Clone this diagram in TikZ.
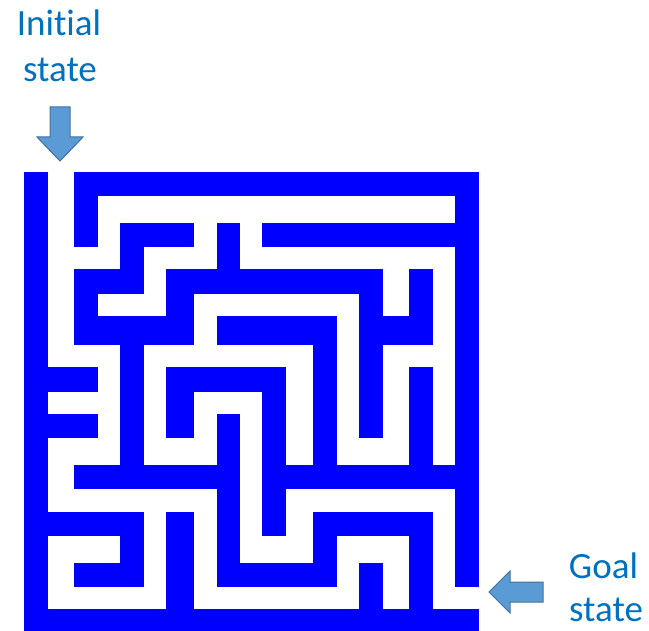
\documentclass[tikz,border=0pt]{standalone}
\usepackage{fontspec}
\setmainfont{Carlito}[Ligatures={NoCommon,NoRequired,NoContextual}]
\definecolor{mazeblue}{RGB}{0,0,255}
\definecolor{labelblue}{RGB}{0,112,192}
\definecolor{arrowfill}{RGB}{91,155,213}
\definecolor{arrowline}{RGB}{65,113,156}
\tikzset{
  wallcell/.style={fill=mazeblue, draw=mazeblue, line width=0.3pt},
  labeltext/.style={text=labelblue, font=\fontsize{37}{46}\selectfont, inner sep=0pt, anchor=base},
  blockarrow/.style={fill=arrowfill, draw=arrowline, line width=1pt, line join=miter},
}
\begin{document}
\begin{tikzpicture}[x=1pt, y=-1pt]
\useasboundingbox (0,0) rectangle (649,631);
\def\xs{{24,46.7,74.3,97.3,120,143.3,165.7,193.3,216.7,239.3,262.3,285,312.7,336,359,381.7,409.3,432.3,455,477.7}}
\def\ys{{171.7,195,223.3,246,269.3,292.7,316,344,367.3,390.7,414,437.3,465,488.3,511.7,535,562.7,586,609.3,632}}
\begin{scope}
\clip (0,0) rectangle (649,631);
\foreach \r/\a/\b in {
 0/0/0, 0/2/18,
 1/0/0, 1/2/2, 1/18/18,
 2/0/0, 2/2/2, 2/4/6, 2/8/8, 2/10/18,
 3/0/0, 3/4/4, 3/8/8, 3/18/18,
 4/0/0, 4/2/4, 4/6/14, 4/16/16, 4/18/18,
 5/0/0, 5/2/2, 5/6/6, 5/14/14, 5/16/16, 5/18/18,
 6/0/0, 6/2/6, 6/8/12, 6/14/16, 6/18/18,
 7/0/0, 7/4/4, 7/12/12, 7/14/14, 7/18/18,
 8/0/2, 8/4/4, 8/6/10, 8/12/12, 8/14/14, 8/16/16, 8/18/18,
 9/0/0, 9/4/4, 9/6/6, 9/10/10, 9/12/12, 9/14/14, 9/16/16, 9/18/18,
 10/0/2, 10/4/4, 10/6/6, 10/8/8, 10/10/10, 10/12/12, 10/14/14, 10/16/16, 10/18/18,
 11/0/0, 11/4/4, 11/8/8, 11/10/10, 11/12/12, 11/16/16, 11/18/18,
 12/0/0, 12/2/8, 12/10/18,
 13/0/0, 13/8/8, 13/10/10, 13/18/18,
 14/0/4, 14/6/6, 14/8/8, 14/10/10, 14/12/16, 14/18/18,
 15/0/0, 15/4/4, 15/6/6, 15/8/8, 15/12/12, 15/16/16, 15/18/18,
 16/0/0, 16/2/4, 16/6/6, 16/8/12, 16/14/14, 16/16/16, 16/18/18,
 17/0/0, 17/6/6, 17/14/14, 17/16/16,
 18/0/18}{
  \pgfmathsetmacro\xa{\xs[\a]}
  \pgfmathsetmacro\xb{\xs[\b+1]}
  \pgfmathsetmacro\ya{\ys[\r]}
  \pgfmathsetmacro\yb{\ys[\r+1]}
  \path[wallcell] (\xa,\ya) rectangle (\xb,\yb);
}
\end{scope}
% labels
\node[labeltext] (init1) at (59,36) {Initial};
\node[labeltext] (init2) at (60,81.7) {state};
\node[labeltext] (goal1) at (603.5,578) {Goal};
\node[labeltext] (goal2) at (606,621.5) {state};
% block arrows
\path[blockarrow] (50,107) -- (70,107) -- (70,137) -- (83,137) -- (60,161)
  -- (37,137) -- (50,137) -- cycle;
\path[blockarrow] (543,582) -- (543,602) -- (510,602) -- (510,613) -- (489,592)
  -- (510,571) -- (510,582) -- cycle;
\end{tikzpicture}
\end{document}
